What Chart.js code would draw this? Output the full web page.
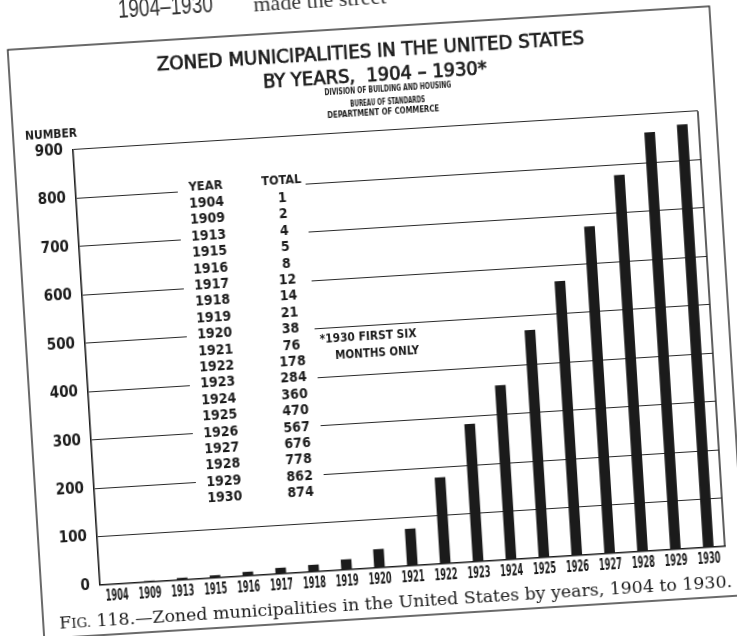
<!DOCTYPE html>
<html>
<head>
<meta charset="utf-8">
<script src="https://cdn.jsdelivr.net/npm/chart.js@4"></script>
<style>
	html, body { margin: 0; padding: 0; background: #fff; overflow: hidden; width: 737px; height: 636px; }
	/* canvas is 20px bigger on each side so the tilted page has no cut corners */
	#chart { position: absolute; left: -20px; top: -20px; transform: rotate(-3.55deg); transform-origin: 388.5px 338px; }
</style>
</head>
<body>
<canvas id="chart" width="777" height="676"></canvas>
<script>
var years = ["1904", "1909", "1913", "1915", "1916", "1917", "1918", "1919", "1920", "1921",
	"1922", "1923", "1924", "1925", "1926", "1927", "1928", "1929", "1930"];
var totals = [1, 2, 4, 5, 8, 12, 14, 21, 38, 76, 178, 284, 360, 470, 567, 676, 778, 862, 874];
var yTicks = [0, 100, 200, 300, 400, 500, 600, 700, 800, 900];

var titleLines = ["ZONED MUNICIPALITIES IN THE UNITED STATES", "BY YEARS,  1904 \u2013 1930*"];
var subLines = ["DIVISION OF BUILDING AND HOUSING", "BUREAU OF STANDARDS", "DEPARTMENT OF COMMERCE"];
var noteLines = ["*1930 FIRST SIX", "MONTHS ONLY"];
var captionText = "118.\u2014Zoned municipalities in the United States by years, 1904 to 1930.";

var LETTER = '"DejaVu Sans Condensed", "DejaVu Sans", sans-serif';
var INK = "#1b1b1b";
var OFF = 20;

// draws text squeezed or stretched to a given width, centred on cx
function fitText(ctx, text, cx, y, font, width, thick) {
	ctx.save();
	ctx.font = font;
	var w = ctx.measureText(text).width;
	ctx.translate(cx, y);
	ctx.scale(width / w, 1);
	ctx.textAlign = "center";
	ctx.textBaseline = "middle";
	ctx.fillText(text, 0, 0);
	if (thick) {
		ctx.lineWidth = thick;
		ctx.strokeText(text, 0, 0);
	}
	ctx.restore();
}

var paperPlugin = {
	id: "paper",
	beforeDatasetsDraw: function (chart) {
		// gap in the grid lines behind the table
		var ctx = chart.ctx;
		ctx.save();
		ctx.translate(OFF, OFF);
		ctx.fillStyle = "#fff";
		ctx.fillRect(186, 166, 128, 330);
		ctx.restore();
	},
	afterDraw: function (chart) {
		var ctx = chart.ctx;
		var a = chart.chartArea;
		var xs = chart.scales.x;
		ctx.save();
		ctx.fillStyle = INK;
		ctx.strokeStyle = INK;

		// right edge of the plot
		ctx.lineWidth = 1.4;
		ctx.beginPath();
		ctx.moveTo(a.right, a.top);
		ctx.lineTo(a.right, a.bottom);
		ctx.stroke();

		// year labels, narrow lettering
		for (var k = 0; k < years.length; k++) {
			fitText(ctx, years[k], xs.getPixelForValue(k), a.bottom + 12, "bold 15px " + LETTER, 23);
		}

		ctx.translate(OFF, OFF);

		// outer frame
		ctx.lineWidth = 1.3;
		ctx.strokeRect(25, 28, 703, 590);

		// page text above the frame
		ctx.fillStyle = "#333";
		fitText(ctx, "1904\u20131930", 185, -4, '26px "Liberation Sans", Arial, sans-serif', 95);
		ctx.font = '22px "Liberation Serif", serif';
		ctx.textAlign = "left";
		ctx.textBaseline = "alphabetic";
		ctx.fillText("made the street", 273, 5);
		ctx.fillStyle = INK;

		// titles
		fitText(ctx, titleLines[0], 387, 53, "20px " + LETTER, 428, 0.7);
		fitText(ctx, titleLines[1], 390, 77, "20px " + LETTER, 224, 0.7);
		fitText(ctx, subLines[0], 402, 91, "bold 8px " + LETTER, 127);
		fitText(ctx, subLines[1], 401, 104, "bold 8px " + LETTER, 75);
		fitText(ctx, subLines[2], 396, 114, "bold 8px " + LETTER, 112);

		fitText(ctx, "NUMBER", 63, 116, "bold 12px " + LETTER, 52);

		// table of totals
		var rowH = 16.4;
		var top = 177;
		fitText(ctx, "YEAR", 214, top, "bold 13px " + LETTER, 34);
		fitText(ctx, "TOTAL", 290, top - 1, "bold 13px " + LETTER, 40);
		ctx.font = "bold 14px " + LETTER;
		ctx.textAlign = "center";
		ctx.textBaseline = "middle";
		for (var i = 0; i < years.length; i++) {
			var y = top + rowH * (i + 1);
			ctx.fillText(years[i], 214, y);
			ctx.fillText(String(totals[i]), 290, y);
		}

		// note
		fitText(ctx, noteLines[0], 367, 337, "bold 13px " + LETTER, 97);
		fitText(ctx, noteLines[1], 375, 354, "bold 13px " + LETTER, 84);

		// caption with small caps FIG.
		var big = '17px "DejaVu Serif", "Liberation Serif", serif';
		var small = '13px "DejaVu Serif", "Liberation Serif", serif';
		ctx.font = big;
		var wF = ctx.measureText("F").width;
		var wRest = ctx.measureText(" " + captionText).width;
		ctx.font = small;
		var wIG = ctx.measureText("IG.").width;
		var s = 674 / (wF + wIG + wRest);
		ctx.save();
		ctx.translate(41, 609);
		ctx.scale(s, 1);
		ctx.textAlign = "left";
		ctx.textBaseline = "alphabetic";
		ctx.font = big;
		ctx.fillText("F", 0, 0);
		ctx.font = small;
		ctx.fillText("IG.", wF, 0);
		ctx.font = big;
		ctx.fillText(" " + captionText, wF + wIG, 0);
		ctx.restore();

		ctx.restore();
	}
};

var ctx1 = document.getElementById("chart");

var zoneData = {
	labels: years,
	datasets: [
		{
			data: totals,
			backgroundColor: INK,
			borderWidth: 0,
			barThickness: 10
		}
	]
};

var zoneOptions = {
	responsive: false,
	animation: false,
	layout: { padding: { top: 132 + OFF, right: 27 + OFF, left: OFF, bottom: 0 } },
	plugins: {
		legend: { display: false },
		tooltip: { enabled: false }
	},
	scales: {
		x: {
			grid: { display: false },
			border: { display: true, color: INK, width: 1.6 },
			ticks: { display: false },
			afterFit: function (scale) { scale.height = 68 + OFF; }
		},
		y: {
			min: 0,
			max: 900,
			afterBuildTicks: function (scale) {
				scale.ticks = yTicks.map(function (v) { return { value: v }; });
			},
			grid: { color: "#2a2a2a", lineWidth: 1.1, drawTicks: false },
			border: { display: true, color: INK, width: 1.6 },
			ticks: {
				color: INK,
				font: { family: LETTER, size: 15, weight: "bold" },
				padding: 10
			},
			afterFit: function (scale) { scale.width = 84; }
		}
	}
};

var chart1 = new Chart(ctx1, {
	type: "bar",
	data: zoneData,
	options: zoneOptions,
	plugins: [paperPlugin]
});
</script>
</body>
</html>
